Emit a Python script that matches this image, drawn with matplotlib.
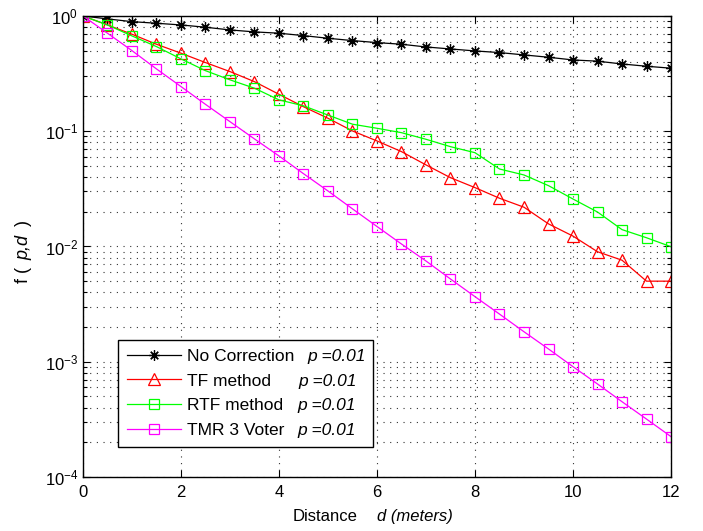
import matplotlib
matplotlib.use("Agg")
import matplotlib.pyplot as plt
from matplotlib.transforms import IdentityTransform

plt.rcParams['font.family'] = ['Liberation Sans', 'DejaVu Sans']
plt.rcParams['mathtext.fontset'] = 'custom'
plt.rcParams['mathtext.rm'] = 'Liberation Sans'
plt.rcParams['mathtext.it'] = 'Liberation Sans:italic'

# distance in meters
distance = [0, 0.5, 1, 1.5, 2, 2.5, 3, 3.5, 4, 4.5, 5, 5.5, 6,
            6.5, 7, 7.5, 8, 8.5, 9, 9.5, 10, 10.5, 11, 11.5, 12]

no_correction = [1.0, 0.942, 0.892, 0.864, 0.835, 0.798, 0.756, 0.727, 0.708,
                 0.675, 0.640, 0.611, 0.587, 0.568, 0.538, 0.517, 0.497, 0.481,
                 0.459, 0.438, 0.415, 0.405, 0.383, 0.366, 0.352]

tf_method = [1.0, 0.835, 0.694, 0.568, 0.475, 0.394, 0.329, 0.269, 0.209,
             0.163, 0.1295, 0.1005, 0.0823, 0.0665, 0.0510, 0.0395, 0.0324,
             0.0262, 0.0219, 0.0157, 0.0123, 0.0090, 0.0076, 0.0050, 0.0050]

rtf_method = [1.0, 0.835, 0.671, 0.542, 0.424, 0.335, 0.279, 0.236, 0.187,
              0.166, 0.138, 0.115, 0.106, 0.0971, 0.0851, 0.0734, 0.0651,
              0.0470, 0.0417, 0.0337, 0.0258, 0.0199, 0.0140, 0.0119, 0.00995]

tmr_voter = [1.0, 0.708, 0.500, 0.347, 0.244, 0.171, 0.121, 0.0857, 0.0610,
             0.0428, 0.0303, 0.0212, 0.0149, 0.0105, 0.00748, 0.00522, 0.00367,
             0.00259, 0.00182, 0.00129, 0.000906, 0.000641, 0.000450,
             0.000318, 0.000224]

names = ['No Correction', 'TF method', 'RTF method', 'TMR 3 Voter']
p_label = 'p =0.01'
p_offset = [121, 112, 111, 111]   # px from label start to the italic part

fig = plt.figure(figsize=(7.03, 5.31), dpi=100)
ax = fig.add_axes([0.118, 0.1017, 0.8365, 0.8683])

ax.semilogy(distance, no_correction, color='black', marker=(8, 2, 0),
            markersize=7.5, mew=0.9, lw=0.9, label=names[0])
ax.semilogy(distance, tf_method, color='red', marker='^', markersize=9,
            markerfacecolor='none', mew=0.9, lw=0.9, label=names[1])
ax.semilogy(distance, rtf_method, color='#00ff00', marker='s', markersize=6.5,
            markerfacecolor='none', mew=0.9, lw=0.9, label=names[2])
ax.semilogy(distance, tmr_voter, color='magenta', marker='s', markersize=6.5,
            markerfacecolor='none', mew=0.9, lw=0.9, label=names[3])

ax.set_xlim(0, 12)
ax.set_ylim(1e-4, 1)
ax.set_xticks([0, 2, 4, 6, 8, 10, 12])
ax.tick_params(which='both', direction='in', top=True, right=True,
               labelsize=12, width=0.8)
ax.tick_params(axis='x', pad=6)
ax.tick_params(which='major', length=5)
ax.tick_params(which='minor', length=3)
dots = (0, (1, 5))
ax.grid(True, which='major', linestyle=dots, color='#333333', lw=0.8)
ax.grid(True, which='minor', axis='y', linestyle=dots, color='#333333', lw=0.8)
for s in ax.spines.values():
    s.set_linewidth(1)

# legend: frame and handles from matplotlib, italic parts added after
leg = ax.legend(loc='lower left', bbox_to_anchor=(0.0595, 0.0651, 0.4337, 0.232),
                mode='expand', borderaxespad=0, fontsize=12.5,
                fancybox=False, edgecolor='black', framealpha=1,
                handlelength=3.15, borderpad=0.5, labelspacing=0.56,
                handletextpad=0.32)
leg.get_frame().set_linewidth(1)

fig.canvas.draw()
for t, off in zip(leg.get_texts(), p_offset):
    bb = t.get_window_extent()
    fig.text(bb.x0 + off, (bb.y0 + bb.y1) / 2, p_label, style='italic',
             fontsize=12.5, va='center', transform=IdentityTransform())

# x label: "Distance" upright, "d (meters)" italic
H = 531
fig.text(293, H - 520.7, 'Distance', fontsize=12, va='baseline',
         transform=IdentityTransform())
fig.text(376.7, H - 520.7, 'd (meters)', fontsize=12, style='italic',
         va='baseline', transform=IdentityTransform())

# y label: "f ( p,d )" with italic p,d
for s, y0, sty in [('f (', 283, 'normal'), ('p,d', 259.5, 'italic'), (')', 226, 'normal')]:
    fig.text(28, H - y0, s, fontsize=13, style=sty, rotation=90,
             rotation_mode='anchor', ha='left', va='baseline',
             transform=IdentityTransform())

fig.savefig('out.png', dpi=100)
